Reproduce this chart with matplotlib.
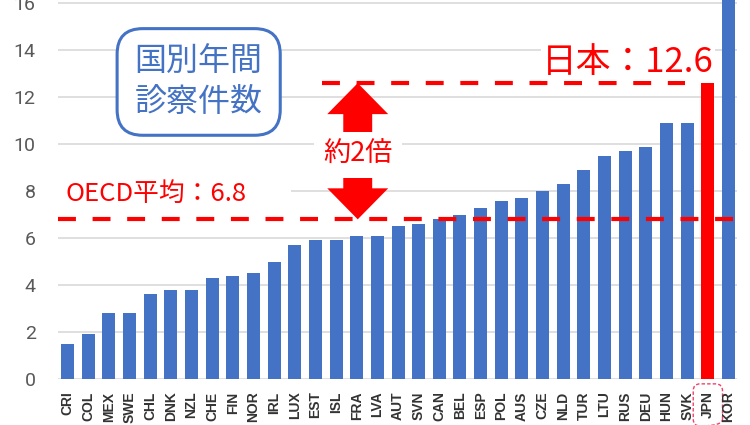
import matplotlib
matplotlib.use("Agg")
import matplotlib.pyplot as plt
from matplotlib.patches import FancyArrow, Rectangle
import numpy as np

plt.rcParams['font.family'] = ['Noto Sans CJK JP', 'DejaVu Sans']

countries = ["CRI", "COL", "MEX", "SWE", "CHL", "DNK", "NZL", "CHE", "FIN", "NOR",
             "IRL", "LUX", "EST", "ISL", "FRA", "LVA", "AUT", "SVN", "CAN", "BEL",
             "ESP", "POL", "AUS", "CZE", "NLD", "TUR", "LTU", "RUS", "DEU", "HUN",
             "SVK", "JPN", "KOR"]
consultations = [1.5, 1.9, 2.8, 2.8, 3.6, 3.8, 3.8, 4.3, 4.4, 4.5,
                 5.0, 5.7, 5.9, 5.9, 6.1, 6.1, 6.5, 6.6, 6.8, 7.0,
                 7.3, 7.6, 7.7, 8.0, 8.3, 8.9, 9.5, 9.7, 9.9, 10.9,
                 10.9, 12.6, 16.6]
oecd_avg = 6.8
japan_value = 12.6
highlight = "JPN"
yticks = [0, 2, 4, 6, 8, 10, 12, 14, 16]

BLUE = "#4472C4"
RED = "#FF0000"

fig = plt.figure(figsize=(7.5, 4.25), dpi=100)
ax = fig.add_axes([58/750, 46/425, (737-58)/750, 379/425])

x = np.arange(len(countries))
colors = [RED if c == highlight else BLUE for c in countries]
ax.bar(x, consultations, width=0.63, color=colors, zorder=2)

ax.set_xlim(-0.46, len(countries) - 1 + 0.41)
ax.set_ylim(0, 16.14)
ax.set_yticks(yticks)
ax.set_yticklabels([str(v) for v in yticks], fontsize=14, color="#595959",
                   family=["Roboto", "DejaVu Sans"])
ax.set_xticks(x)
ax.set_xticklabels(countries, rotation=90, fontsize=10, fontweight="bold",
                   color="#333333", family=["Liberation Sans", "DejaVu Sans"])
ax.tick_params(axis="y", length=0, pad=16)
ax.tick_params(axis="x", length=0, pad=9)
for s in ax.spines.values():
    s.set_visible(False)
ax.set_axisbelow(True)
ax.yaxis.grid(True, color="#D9D9D9", linewidth=1.2, zorder=0)

# JPN label dashed box
jpn_idx = countries.index(highlight)
lbl = ax.get_xticklabels()[jpn_idx]
lbl.set_bbox(dict(boxstyle="round,pad=0.55,rounding_size=0.5", facecolor="none",
                  edgecolor="#F0416A", linestyle=(0, (2.5, 1.5)), linewidth=1.0))

# OECD average line and label
ax.axhline(oecd_avg, color=RED, linewidth=3, linestyle=(0, (4.3, 4)), zorder=3)
ax.add_patch(Rectangle((-0.46, 7.3), 11.3, 1.2, facecolor="white",
                       edgecolor="none", zorder=1.5))
ax.text(-0.1, 7.88, "OECD平均：6.8", color=RED, fontsize=18.5, ha="left",
        va="center", zorder=4)

# Japan line and label
ax.plot([12.3, 29.9], [japan_value, japan_value], color=RED, linewidth=3,
        linestyle=(0, (4.3, 4)), zorder=3)
ax.text(31.3, 13.48, "日本：12.6", color=RED, fontsize=25, ha="right",
        va="center", zorder=4,
        bbox=dict(facecolor="white", edgecolor="none", pad=1))

# double arrow
ax_x = 14.05
mid = 9.55
for end in (japan_value, oecd_avg):
    ax.add_patch(FancyArrow(ax_x, mid, 0, end - mid, width=1.4, head_width=2.95,
                            head_length=1.32, length_includes_head=True,
                            color=RED, linewidth=0, zorder=4))
ax.text(ax_x, mid, "約2倍", color=RED, fontsize=19.5, ha="center", va="center",
        zorder=5, bbox=dict(facecolor="white", edgecolor="none",
                            boxstyle="square,pad=0.35"))

# title box
ax.text(6.35, 12.65, "国別年間\n診察件数", color=BLUE, fontsize=23, ha="center",
        va="center", linespacing=1.3, zorder=5,
        bbox=dict(boxstyle="round,pad=0.55,rounding_size=0.8", facecolor="white",
                  edgecolor=BLUE, linewidth=2.2))

fig.savefig("out.png", dpi=100)
